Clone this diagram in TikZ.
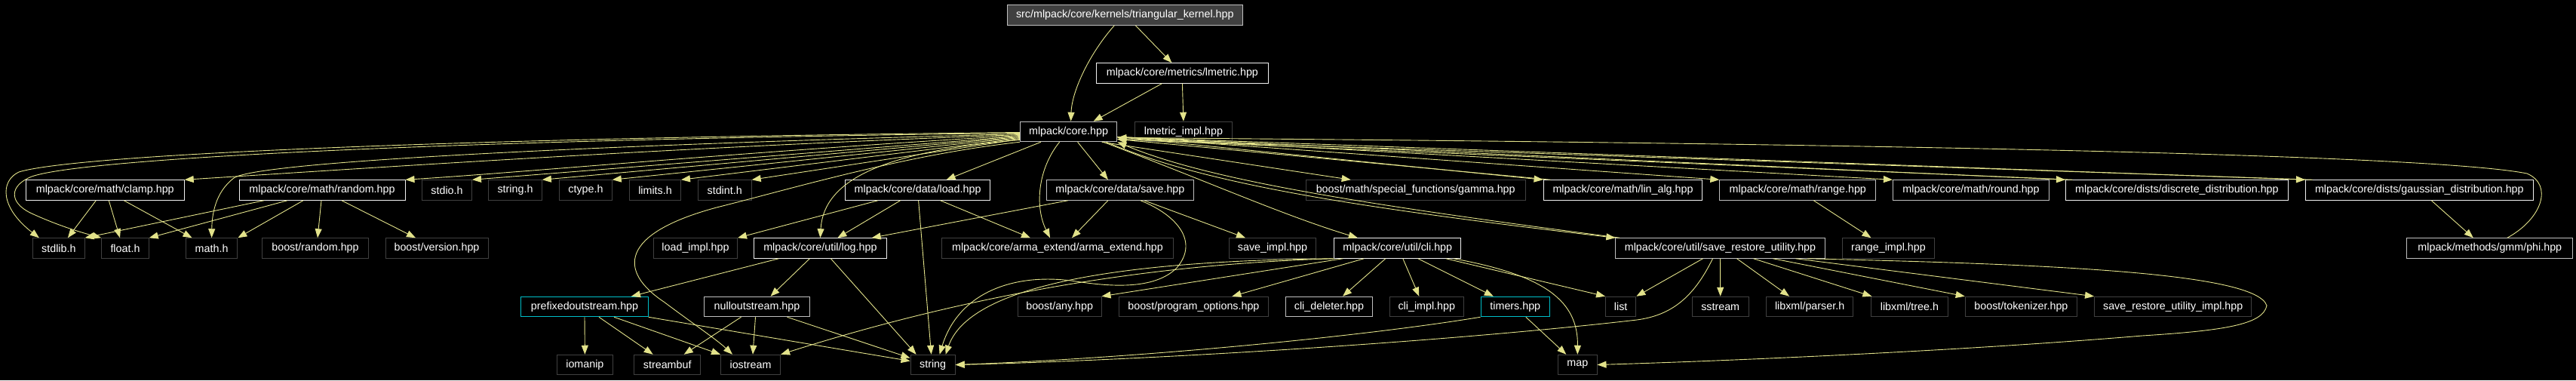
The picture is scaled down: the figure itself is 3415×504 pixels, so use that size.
\documentclass[tikz,border=0pt]{standalone}
\usepackage{fontspec}
\setmainfont{Liberation Sans}
\usetikzlibrary{arrows.meta}
\definecolor{edgecol}{RGB}{226,226,138}
\definecolor{docline}{RGB}{240,240,240}
\definecolor{docgray}{RGB}{191,191,191}
\definecolor{extline}{RGB}{64,64,64}
\definecolor{hiline}{RGB}{0,190,200}
\definecolor{srcfill}{RGB}{64,64,64}

\begin{document}
\begin{tikzpicture}[x=1pt, y=-1pt,
        hfile/.style={
        rectangle, draw=docline, fill=black, text=white,
        line width=1pt, inner sep=0pt, minimum height=26.5pt,
        font=\fontsize{14.3pt}{16pt}\selectfont},
        doc/.style={hfile},
        docg/.style={hfile, draw=docgray},
        ext/.style={hfile, draw=extline},
        hilite/.style={hfile, draw=hiline},
        srcfile/.style={hfile, draw=docgray, fill=srcfill},
        dep/.style={draw=edgecol, line width=0.9pt,
        -{Triangle[length=12pt,width=9pt]}},
        ]

        \useasboundingbox (0,0) rectangle (3415,504);
        \fill[black] (0,0) rectangle (3415,504);

        \node (kern) [srcfile, minimum width=312.6pt] at (1491.3,20) {src/mlpack/core/kernels/triangular\_kernel.hpp};
        \node (lmetric) [doc, minimum width=228.7pt] at (1567.4,97) {mlpack/core/metrics/lmetric.hpp};
        \node (core) [docg, minimum width=128.4pt] at (1416.6,174.5) {mlpack/core.hpp};
        \node (lmetimpl) [ext, minimum width=128.7pt] at (1568.9,174.5) {lmetric\_impl.hpp};

        \node (clamp) [doc, minimum width=209.8pt] at (139.3,252) {mlpack/core/math/clamp.hpp};
        \node (random) [doc, minimum width=220pt] at (427,252) {mlpack/core/math/random.hpp};
        \node (stdio) [ext, minimum width=66pt] at (592.5,252) {stdio.h};
        \node (stringh) [ext, minimum width=70.7pt] at (683,252) {string.h};
        \node (ctype) [ext, minimum width=69.5pt] at (776.5,252) {ctype.h};
        \node (limits) [ext, minimum width=68pt] at (868.5,252) {limits.h};
        \node (stdint) [ext, minimum width=71pt] at (960.7,252) {stdint.h};
        \node (load) [doc, minimum width=192.3pt] at (1216.6,252) {mlpack/core/data/load.hpp};
        \node (save) [docg, minimum width=195.3pt] at (1484.9,252) {mlpack/core/data/save.hpp};
        \node (gamma) [ext, minimum width=291.2pt] at (1876.7,252) {boost/math/special\_functions/gamma.hpp};
        \node (linalg) [doc, minimum width=210.9pt] at (2151.5,252) {mlpack/core/math/lin\_alg.hpp};
        \node (range) [docg, minimum width=207pt] at (2383.3,252) {mlpack/core/math/range.hpp};
        \node (round) [docg, minimum width=207.2pt] at (2613,252) {mlpack/core/math/round.hpp};
        \node (discrete) [doc, minimum width=294.9pt] at (2885.9,252) {mlpack/core/dists/discrete\_distribution.hpp};
        \node (gaussian) [doc, minimum width=301.7pt] at (3207.3,252) {mlpack/core/dists/gaussian\_distribution.hpp};

        \node (stdlib) [ext, minimum width=68.4pt] at (77.9,329) {stdlib.h};
        \node (floath) [ext, minimum width=62.5pt] at (166,329) {float.h};
        \node (mathh) [ext, minimum width=68.5pt] at (280.6,329) {math.h};
        \node (brandom) [ext, minimum width=140.6pt] at (418,329) {boost/random.hpp};
        \node (bversion) [ext, minimum width=136pt] at (579,329) {boost/version.hpp};
        \node (loadimpl) [ext, minimum width=111pt] at (922,329) {load\_impl.hpp};
        \node (log) [doc, minimum width=175.6pt] at (1087.4,329) {mlpack/core/util/log.hpp};
        \node (arma) [ext, minimum width=307.5pt] at (1402,329) {mlpack/core/arma\_extend/arma\_extend.hpp};
        \node (saveimpl) [ext, minimum width=115.3pt] at (1687,329) {save\_impl.hpp};
        \node (cli) [doc, minimum width=168pt] at (1852.8,329) {mlpack/core/util/cli.hpp};
        \node (sru) [docg, minimum width=277.3pt] at (2280.5,329) {mlpack/core/util/save\_restore\_utility.hpp};
        \node (rangeimpl) [ext, minimum width=121.4pt] at (2503.5,329) {range\_impl.hpp};
        \node (phi) [docg, minimum width=219.7pt] at (3300.8,329) {mlpack/methods/gmm/phi.hpp};

        \node (prefixed) [hilite, minimum width=168.3pt] at (775,406.5) {prefixedoutstream.hpp};
        \node (nullout) [docg, minimum width=139.5pt] at (1003.5,406.5) {nulloutstream.hpp};
        \node (bany) [ext, minimum width=110.6pt] at (1404.7,406.5) {boost/any.hpp};
        \node (bpo) [ext, minimum width=198.7pt] at (1582.4,406.5) {boost/program\_options.hpp};
        \node (clidel) [docg, minimum width=115pt] at (1762,406.5) {cli\_deleter.hpp};
        \node (cliimpl) [ext, minimum width=97.6pt] at (1891.3,406.5) {cli\_impl.hpp};
        \node (timers) [hilite, minimum width=91.4pt] at (2008.8,406.5) {timers.hpp};
        \node (list) [ext, minimum width=40.3pt] at (2148.7,406.5) {list};
        \node (sstream) [ext, minimum width=75pt] at (2280.7,406.5) {sstream};
        \node (parser) [ext, minimum width=115.5pt] at (2399.1,406.5) {libxml/parser.h};
        \node (tree) [ext, minimum width=101.8pt] at (2531.4,406.5) {libxml/tree.h};
        \node (tokenizer) [ext, minimum width=148.4pt] at (2679.4,406.5) {boost/tokenizer.hpp};
        \node (sruimpl) [ext, minimum width=208.3pt] at (2880.7,406.5) {save\_restore\_utility\_impl.hpp};

        \node (iomanip) [ext, minimum width=74pt] at (775.4,483.5) {iomanip};
        \node (streambuf) [ext, minimum width=88.4pt] at (884.7,483.5) {streambuf};
        \node (iostream) [ext, minimum width=79.2pt] at (995,483.5) {iostream};
        \node (string) [ext, minimum width=59.2pt] at (1236.6,483.5) {string};
        \node (map) [ext, minimum width=51.4pt] at (2091.3,483.5) {map};

        \draw[dep] ([xshift=-14pt]kern.south) .. controls (1445,70) and (1421,120) .. ([xshift=3pt]core.north);
        \draw[dep] ([xshift=14pt]kern.south) -- ([xshift=-14pt]lmetric.north);
        \draw[dep] ([xshift=-27pt]lmetric.south) -- ([xshift=33pt]core.north);
        \draw[dep] (lmetric.south) -- (lmetimpl.north);

        \draw[dep] ([yshift=-1pt]core.west) .. controls (600,183) and (100,205) .. (25,228) .. controls (0,240) and (0,275) .. ([xshift=-26pt]stdlib.north);
        \draw[dep] ([yshift=-2pt]core.west) .. controls (600,185) and (110,210) .. (42,234) .. controls (12,246) and (12,268) .. (40,282) .. controls (70,296) and (100,306) .. (floath.north west);
        \draw[dep] ([yshift=-3pt]core.west) .. controls (800,192) and (340,214) .. (310,236) .. controls (285,255) and (281,285) .. (mathh.north);
        \draw[dep] ([yshift=-4pt]core.west) .. controls (900,195) and (500,222) .. (clamp.north east);
        \draw[dep] ([yshift=-5pt]core.west) .. controls (1000,200) and (700,228) .. (random.north east);
        \draw[dep] ([yshift=-6pt]core.west) -- (stdio.north east);
        \draw[dep] ([yshift=-7pt]core.west) -- (stringh.north east);
        \draw[dep] ([yshift=-8pt]core.west) -- (ctype.north east);
        \draw[dep] ([yshift=-9pt]core.west) -- (limits.north east);
        \draw[dep] ([yshift=-10pt]core.west) -- (stdint.north east);
        \draw[dep] ([yshift=-11pt]core.west) .. controls (1180,200) and (1092,235) .. (log.north);
        \draw[dep] (core.south west) .. controls (1200,205) and (1050,250) .. (950,275) .. controls (820,310) and (820,360) .. (880,400) .. controls (920,430) and (950,450) .. ([xshift=-24pt]iostream.north);

        \draw[dep] ([xshift=28pt]core.south west) -- ([xshift=38pt]load.north);
        \draw[dep] ([xshift=-12pt]core.south) .. controls (1375,225) and (1372,275) .. ([xshift=-10pt]arma.north);
        \draw[dep] ([xshift=12pt]core.south) -- ([xshift=-16pt]save.north);
        \draw[dep] ([xshift=44pt]core.south) -- ([xshift=-86pt]gamma.north);
        \draw[dep] ([xshift=46pt]core.south) .. controls (1600,240) and (1700,285) .. ([xshift=-53pt]cli.north);
        \draw[dep] ([xshift=50pt]core.south) .. controls (1600,245) and (1800,275) .. (sru.north west);

        \draw[dep] ([yshift=-7pt]core.east) -- (linalg.north west);
        \draw[dep] ([yshift=-7pt]core.east) -- (range.north west);
        \draw[dep] ([yshift=-7pt]core.east) -- (round.north west);
        \draw[dep] ([yshift=-7pt]core.east) -- (discrete.north west);
        \draw[dep] ([yshift=-7pt]core.east) -- (gaussian.north west);

        \draw[dep] ([xshift=10pt]linalg.north west) -- ([yshift=-10pt]core.east);
        \draw[dep] ([xshift=10pt]discrete.north west) -- ([yshift=-10pt]core.east);
        \draw[dep] ([xshift=10pt]gaussian.north west) -- ([yshift=-10pt]core.east);
        \draw[dep] ([xshift=6pt]sru.north west) .. controls (1800,270) and (1600,238) .. (core.south east);
        \draw[dep] ([xshift=23pt]phi.north) .. controls (3370,290) and (3385,245) .. (3350,230) .. controls (3200,200) and (2200,188) .. ([yshift=-8pt]core.east);

        \draw[dep] ([xshift=-12pt]clamp.south) -- ([xshift=12pt]stdlib.north);
        \draw[dep] ([xshift=5pt]clamp.south) -- ([xshift=-7pt]floath.north);
        \draw[dep] ([xshift=25pt]clamp.south) -- ([xshift=-26pt]mathh.north);
        \draw[dep] ([xshift=-77pt]random.south) -- (stdlib.north east);
        \draw[dep] ([xshift=-46pt]random.south) -- (floath.north east);
        \draw[dep] ([xshift=-25pt]random.south) -- (mathh.north east);
        \draw[dep] ([xshift=-1pt]random.south) -- ([xshift=3pt]brandom.north);
        \draw[dep] ([xshift=26pt]random.south) -- ([xshift=-28pt]bversion.north);

        \draw[dep] ([xshift=44pt]load.south west) -- (loadimpl.north east);
        \draw[dep] ([xshift=-23pt]load.south) -- ([xshift=23pt]log.north);
        \draw[dep] ([xshift=30pt]load.south) -- ([xshift=-36pt]arma.north);
        \draw[dep] ([xshift=1pt]load.south) -- ([xshift=-2pt]string.north);

        \draw[dep] ([xshift=-69pt]save.south) -- ([xshift=-20pt]log.north east);
        \draw[dep] ([xshift=-16pt]save.south) -- ([xshift=19pt]arma.north);
        \draw[dep] ([xshift=32pt]save.south) -- ([xshift=-36pt]saveimpl.north);
        \draw[dep] ([xshift=27pt]save.south) .. controls (1560,285) and (1590,320) .. (1560,355) .. controls (1530,385) and (1470,380) .. (1420,372) .. controls (1340,362) and (1270,390) .. ([xshift=9pt]string.north);

        \draw[dep] ([xshift=-55pt]log.south) -- ([xshift=62pt]prefixed.north);
        \draw[dep] ([xshift=-14pt]log.south) -- ([xshift=18pt]nullout.north);
        \draw[dep] ([xshift=14pt]log.south) -- ([xshift=-22pt]string.north);

        \draw[dep] (prefixed.south) -- (iomanip.north);
        \draw[dep] ([xshift=19pt]prefixed.south) -- ([xshift=-19pt]streambuf.north);
        \draw[dep] ([xshift=39pt]prefixed.south) -- ([xshift=-40pt]iostream.north);
        \draw[dep] (prefixed.south east) -- ([yshift=5pt]string.west);
        \draw[dep] ([xshift=-21pt]nullout.south) -- ([xshift=22pt]streambuf.north);
        \draw[dep] ([xshift=-2pt]nullout.south) -- ([xshift=3pt]iostream.north);
        \draw[dep] ([xshift=40pt]nullout.south) -- ([yshift=9pt]string.west);

        \draw[dep] (cli.south west) .. controls (1600,348) and (1350,370) .. (iostream.north east);
        \draw[dep] (cli.south west) .. controls (1550,345) and (1290,365) .. ([xshift=17pt]string.north);
        \draw[dep] ([xshift=12pt]cli.south west) -- (bany.north east);
        \draw[dep] ([xshift=40pt]cli.south west) -- ([xshift=51pt]bpo.north);
        \draw[dep] ([xshift=-16pt]cli.south) -- ([xshift=18pt]clidel.north);
        \draw[dep] ([xshift=7pt]cli.south) -- ([xshift=-10pt]cliimpl.north);
        \draw[dep] ([xshift=27pt]cli.south) -- ([xshift=-29pt]timers.north);
        \draw[dep] ([xshift=64pt]cli.south) -- (list.north west);
        \draw[dep] ([xshift=74pt]cli.south) .. controls (2050,365) and (2092,400) .. (map.north);

        \draw[dep] ([xshift=14pt]timers.south) -- ([xshift=-15pt]map.north);
        \draw[dep] (timers.south west) .. controls (1800,447) and (1500,475) .. (string.east);

        \draw[dep] ([xshift=-23pt]sru.south) -- (list.north east);
        \draw[dep] (sru.south) -- (sstream.north);
        \draw[dep] ([xshift=22pt]sru.south) -- ([xshift=-27pt]parser.north);
        \draw[dep] ([xshift=44pt]sru.south) -- ([xshift=-50pt]tree.north);
        \draw[dep] ([xshift=70pt]sru.south) -- (tokenizer.north west);
        \draw[dep] ([xshift=100pt]sru.south) -- (sruimpl.north west);
        \draw[dep] ([xshift=115pt]sru.south) .. controls (2700,350) and (2990,360) .. (3005,405) .. controls (3000,430) and (2950,438) .. (2840,445) .. controls (2600,465) and (2300,478) .. (map.east);
        \draw[dep] ([xshift=-10pt]sru.south) .. controls (2245,395) and (2215,418) .. (2170,424) .. controls (1900,455) and (1500,478) .. (string.east);

        \draw[dep] ([xshift=16pt]gaussian.south) -- ([xshift=-22pt]phi.north);
        \draw[dep] ([xshift=21pt]range.south) -- ([xshift=-23pt]rangeimpl.north);
\end{tikzpicture}
\end{document}
